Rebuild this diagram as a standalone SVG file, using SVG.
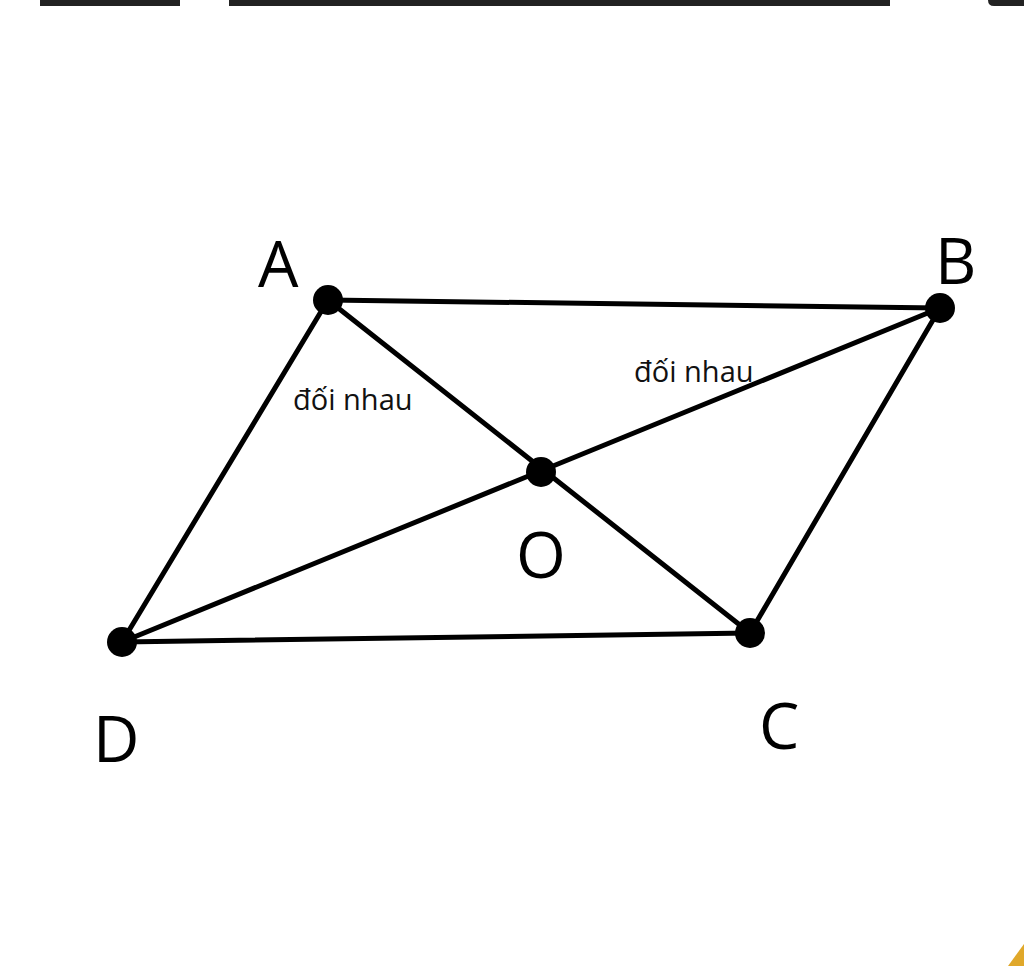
<svg xmlns="http://www.w3.org/2000/svg" width="1024" height="966" viewBox="0 0 1024 966">
<style>
.edge{stroke:#000;stroke-width:5;stroke-linecap:round;fill:none}
.pt{fill:#000}
.lbl{font-family:"Open Sans","Noto Sans","DejaVu Sans",sans-serif;font-size:64px;fill:#000}
.note{font-family:"Open Sans","Noto Sans","DejaVu Sans",sans-serif;font-size:29px;fill:#111}
.bar{fill:#222}
</style>
<rect width="1024" height="966" fill="#fff"/>
<g id="topbars">
<rect class="bar" x="40" y="0" width="140" height="6"/>
<rect class="bar" x="229" y="0" width="661" height="6"/>
<path class="bar" d="M988 0H1024V6H994Q988 6 988 0Z"/>
</g>
<path d="M1024 944L1008 966H1024Z" fill="#e0a82a"/>
<g id="connectors">
<line class="edge" x1="328" y1="300" x2="940" y2="308"/>
<line class="edge" x1="940" y1="308" x2="750" y2="633"/>
<line class="edge" x1="750" y1="633" x2="122" y2="642"/>
<line class="edge" x1="122" y1="642" x2="328" y2="300"/>
<line class="edge" x1="328" y1="300" x2="750" y2="633"/>
<line class="edge" x1="940" y1="308" x2="122" y2="642"/>
</g>
<g id="A"><circle class="pt" cx="328" cy="300" r="15"/><text class="lbl" x="258" y="287">A</text></g>
<g id="B"><circle class="pt" cx="940" cy="308" r="15"/><text class="lbl" x="935" y="284">B</text></g>
<g id="C"><circle class="pt" cx="750" cy="633" r="15"/><text class="lbl" x="759" y="749">C</text></g>
<g id="D"><circle class="pt" cx="122" cy="642" r="15"/><text class="lbl" x="93" y="762">D</text></g>
<g id="O"><circle class="pt" cx="541" cy="472" r="15"/><text class="lbl" x="516" y="578">O</text></g>
<g id="notes">
<text class="note" x="293" y="410">đối nhau</text>
<text class="note" x="634" y="382">đối nhau</text>
</g>
</svg>
